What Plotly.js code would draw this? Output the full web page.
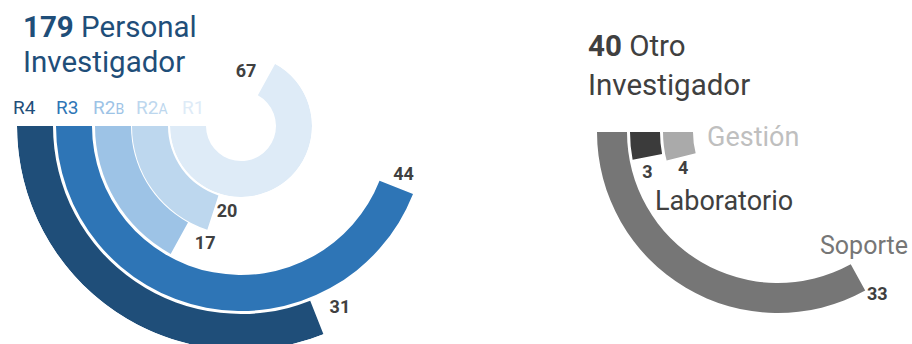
<!DOCTYPE html>
<html><head><meta charset="utf-8">
<script src="https://cdn.plot.ly/plotly-3.0.1.min.js"></script>
<style>
html,body{margin:0;padding:0;background:#fff;overflow:hidden}
#wrap{width:912px;height:344px;overflow:hidden;position:relative}
#chart{width:912px;height:360px}
</style></head>
<body><div id="wrap"><div id="chart"></div></div>
<script>
// ---- data ----
const piCategories = ['R4', 'R3', 'R2B', 'R2A', 'R1'];
const piLabels = ['R4', 'R3', 'R2<span style="font-size:14px">B</span>', 'R2<span style="font-size:14px">A</span>', 'R1'];
const piValues = [31, 44, 17, 20, 67];
const oiCategories = ['Soporte', 'Laboratorio', 'Gestión'];
const oiValues = [33, 3, 4];
const piTitle = ['Personal', 'Investigador'];
const oiTitle = ['Otro', 'Investigador'];
const fullTurn = 100; // value that fills a whole circle

// ---- style ----
const piColors = ['#1f4e79', '#2e75b6', '#9dc3e6', '#bdd7ee', '#deebf7'];
const oiColors = ['#767676', '#3b3b3b', '#aaaaaa'];
const oiLabelColors = ['#767676', '#404040', '#bfbfbf'];
const oiLabelSizes = [25, 27, 27];
const W = 912, H = 360;
const FONT = 'Roboto, sans-serif';
const left = {cx: 241, cy: 126, inner: [188, 149, 110, 73, 35], thick: 36};
const right = {cx: 778, cy: 132, inner: [151, 118, 85], thick: 30, range: 205};
// value label placement (angular offset past bar end in degrees, radius px)
const piLabOff = [6.8, 4.5, 12, 8.9, 23.5];
const piLabR = [208, 170, 124, 88, 54];
const oiLabOff = [2.5, 6.7, 7.1];
const oiLabR = [191, 137, 102];
// category label positions (px)
const piCatPos = [[24, 107], [67, 107], [108, 107], [152, 107], [193, 107]];
const oiCatPos = [[910, 245, 'right'], [653, 201, 'left'], [705, 137, 'left']];
const TITLE_FS = 29.5;

const deg = v => v * 360 / fullTurn;

function domainFor(c, R, bbox) {
  const x0 = c.cx + bbox[0] * R, x1 = c.cx + bbox[2] * R;
  const yTop = c.cy - bbox[3] * R, yBot = c.cy - bbox[1] * R;
  return {x: [x0 / W, x1 / W], y: [1 - yBot / H, 1 - yTop / H]};
}
function polarLayout(dom, sector, R) {
  const hidden = {showline: false, showgrid: false, showticklabels: false, ticks: ''};
  return {
    domain: dom, sector: sector, bgcolor: 'rgba(0,0,0,0)',
    radialaxis: Object.assign({range: [0, R], autorange: false}, hidden),
    angularaxis: Object.assign({rotation: 180, direction: 'counterclockwise'}, hidden)
  };
}

const traces = [];
const valFont = {family: FONT, size: 18, color: '#404040', weight: 'bold'};
piCategories.forEach((cat, i) => {
  const sub = cat === 'R1' ? 'polar2' : 'polar';
  const w = deg(piValues[i]);
  traces.push({
    type: 'barpolar', subplot: sub, name: cat,
    r: [left.thick], base: [left.inner[i]], theta: [w / 2], width: [w],
    marker: {color: piColors[i], line: {width: 0}}, hoverinfo: 'skip'
  });
  traces.push({
    type: 'scatterpolar', subplot: sub, mode: 'text', cliponaxis: false,
    r: [piLabR[i]], theta: [w + piLabOff[i]], text: [String(piValues[i])],
    textfont: valFont, textposition: 'middle center', hoverinfo: 'skip'
  });
});
oiCategories.forEach((cat, i) => {
  const w = deg(oiValues[i]);
  traces.push({
    type: 'barpolar', subplot: 'polar3', name: cat,
    r: [right.thick], base: [right.inner[i]], theta: [w / 2], width: [w],
    marker: {color: oiColors[i], line: {width: 0}}, hoverinfo: 'skip'
  });
  traces.push({
    type: 'scatterpolar', subplot: 'polar3', mode: 'text', cliponaxis: false,
    r: [oiLabR[i]], theta: [w + oiLabOff[i]], text: [String(oiValues[i])],
    textfont: valFont, textposition: 'middle center', hoverinfo: 'skip'
  });
});

const RA = left.inner[0] + left.thick;              // outer of R4
const RB = left.inner[4] + left.thick;              // outer of R1
const RC = right.range;
const sum = a => a.reduce((s, v) => s + v, 0);

const annotations = [];
function titleLine(x, baseline, text, color) {
  annotations.push({
    xref: 'paper', yref: 'paper', x: x / W, y: 1 - (baseline - 0.345 * TITLE_FS) / H,
    xanchor: 'left', yanchor: 'middle', align: 'left', showarrow: false, text: text,
    font: {family: FONT, size: TITLE_FS, color: color}
  });
}
titleLine(21, 37, '<b>' + sum(piValues) + '</b> ' + piTitle[0], '#1f4e79');
titleLine(21, 72, piTitle[1], '#1f4e79');
titleLine(586, 56, '<b>' + sum(oiValues) + '</b> ' + oiTitle[0], '#404040');
titleLine(586, 95, oiTitle[1], '#404040');

piLabels.forEach((t, i) => annotations.push({
  xref: 'paper', yref: 'paper', x: piCatPos[i][0] / W, y: 1 - piCatPos[i][1] / H,
  xanchor: 'center', yanchor: 'middle', showarrow: false, text: t,
  font: {family: FONT, size: 19, color: piColors[i]}
}));
oiCategories.forEach((t, i) => annotations.push({
  xref: 'paper', yref: 'paper', x: oiCatPos[i][0] / W, y: 1 - oiCatPos[i][1] / H,
  xanchor: oiCatPos[i][2], yanchor: 'middle', showarrow: false, text: t,
  font: {family: FONT, size: oiLabelSizes[i], color: oiLabelColors[i]}
}));

const layout = {
  width: W, height: H, margin: {l: 0, r: 0, t: 0, b: 0}, showlegend: false,
  paper_bgcolor: '#ffffff', font: {family: FONT},
  polar: polarLayout(domainFor(left, RA, [-1, -1, 1, 0]), [180, 360], RA),
  polar2: polarLayout(domainFor(left, RB, [-1, -1, 1, 1]), [0, 360], RB),
  polar3: polarLayout(domainFor(right, RC, [-1, -1, Math.cos(310 * Math.PI / 180), 0]), [180, 310], RC),
  annotations: annotations
};
Plotly.newPlot('chart', traces, layout, {displayModeBar: false, staticPlot: true});
</script>
</body></html>
